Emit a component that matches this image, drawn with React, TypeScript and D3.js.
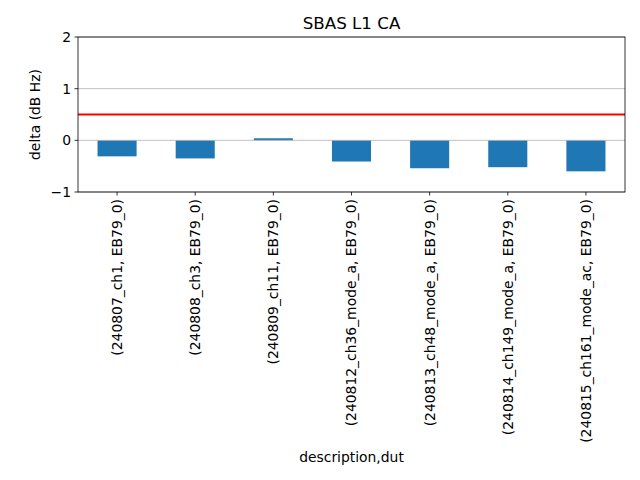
import React from "react";
import * as d3 from "d3";

const categories = [
  "(240807_ch1, EB79_0)",
  "(240808_ch3, EB79_0)",
  "(240809_ch11, EB79_0)",
  "(240812_ch36_mode_a, EB79_0)",
  "(240813_ch48_mode_a, EB79_0)",
  "(240814_ch149_mode_a, EB79_0)",
  "(240815_ch161_mode_ac, EB79_0)",
];
const values = [-0.31, -0.35, 0.04, -0.41, -0.54, -0.52, -0.6];
const yTicks = [-1, 0, 1, 2];
const threshold = 0.5;
const title = "SBAS L1 CA";
const xLabel = "description,dut";
const yLabel = "delta (dB Hz)";

const W = 640;
const H = 480;
const L = 78;
const R = 625;
const T = 37;
const B = 192;
const FONT = "DejaVu Sans, sans-serif";

export default function App() {
  const x = d3.scaleLinear().domain([-0.5, categories.length - 0.5]).range([L, R]);
  const y = d3.scaleLinear().domain([-1, 2]).range([B, T]);
  const bw = x(0.25) - x(-0.25);
  const fmt = (v: number) => (v < 0 ? "\u2212" + Math.abs(v) : String(v));
  return (
    <svg width={W} height={H} style={{ position: "absolute", left: 0, top: 0 }}>
      <rect x={0} y={0} width={W} height={H} fill="#fff" />
      {values.map((v, i) => (
        <rect
          key={i}
          x={x(i) - bw / 2}
          y={Math.min(y(v), y(0))}
          width={bw}
          height={Math.abs(y(v) - y(0))}
          fill="#1f77b4"
        />
      ))}
      {yTicks.map((t) => (
        <line key={"g" + t} x1={L} x2={R} y1={y(t)} y2={y(t)} stroke="#b0b0b0" strokeWidth={0.8} />
      ))}
      <line x1={L} x2={R} y1={y(threshold)} y2={y(threshold)} stroke="#ff0000" strokeWidth={2} />
      <rect x={L} y={T} width={R - L} height={B - T} fill="none" stroke="#000" strokeWidth={0.8} />
      {yTicks.map((t) => (
        <g key={"yt" + t}>
          <line x1={L - 3.5} x2={L} y1={y(t)} y2={y(t)} stroke="#000" strokeWidth={0.8} />
          <text x={L - 7} y={y(t)} dy="0.35em" textAnchor="end" fontFamily={FONT} fontSize={13.9} fill="#000">
            {fmt(t)}
          </text>
        </g>
      ))}
      {categories.map((c, i) => (
        <g key={"xt" + i}>
          <line x1={x(i)} x2={x(i)} y1={B} y2={B + 3.5} stroke="#000" strokeWidth={0.8} />
          <text
            transform={`translate(${x(i)},${B + 7}) rotate(-90)`}
            dy="0.35em"
            textAnchor="end"
            fontFamily={FONT}
            fontSize={13.9}
            fill="#000"
          >
            {c}
          </text>
        </g>
      ))}
      <text x={(L + R) / 2} y={T - 8} textAnchor="middle" fontFamily={FONT} fontSize={16.7} fill="#000">
        {title}
      </text>
      <text x={(L + R) / 2} y={462} textAnchor="middle" fontFamily={FONT} fontSize={13.9} fill="#000">
        {xLabel}
      </text>
      <text
        transform={`translate(40,${(T + B) / 2}) rotate(-90)`}
        textAnchor="middle"
        fontFamily={FONT}
        fontSize={13.9}
        fill="#000"
      >
        {yLabel}
      </text>
    </svg>
  );
}
